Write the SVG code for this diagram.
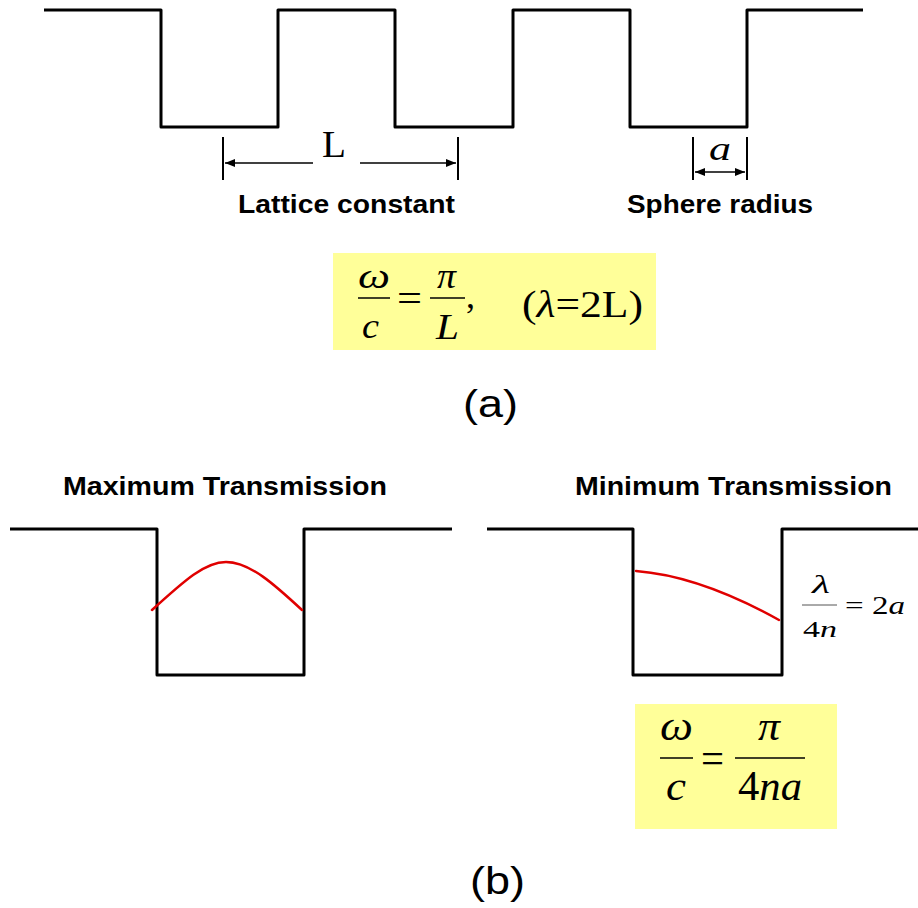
<svg xmlns="http://www.w3.org/2000/svg" width="918" height="908" viewBox="0 0 918 908">
<style>
.wave{fill:none;stroke:#000;stroke-width:3;stroke-linejoin:round}
.red{fill:none;stroke:#e00000;stroke-width:2.5;stroke-linecap:round}
.dim{fill:none;stroke:#000;stroke-width:1.5}
.tick{fill:none;stroke:#000;stroke-width:2}
.lbl{font-family:"Liberation Sans",Arial,sans-serif;font-weight:bold;font-size:25px;fill:#000}
.cap{font-family:"Liberation Sans",Arial,sans-serif;font-size:38px;fill:#000}
.m{font-family:"Liberation Serif","Times New Roman",serif;fill:#000}
.i{font-style:italic}
.box{fill:#ffff99}
.fl{stroke:#000;stroke-width:1.5}
</style>
<defs>
<marker id="ah" viewBox="0 0 10 10" refX="10" refY="5" markerWidth="10" markerHeight="10" markerUnits="userSpaceOnUse" orient="auto">
<path d="M0,1 L10,5 L0,9 Z" fill="#000"/>
</marker>
</defs>
<g id="panel-a">
<g id="lattice">
<path class="wave" d="M44,10 H161 V127 H278 V10 H395 V127 H513 V10 H630 V127 H747 V10 H863"/>
</g>
<g id="dim-L">
<line class="tick" x1="223" y1="137" x2="223" y2="180"/>
<line class="tick" x1="458" y1="137" x2="458" y2="180"/>
<text class="m" x="322" y="157" font-size="38" textLength="24" lengthAdjust="spacingAndGlyphs">L</text>
</g>
<g id="dim-a">
<line class="tick" x1="693" y1="137" x2="693" y2="180"/>
<line class="tick" x1="747" y1="137" x2="747" y2="180"/>
<text class="m i" x="709" y="160" font-size="34" textLength="22" lengthAdjust="spacingAndGlyphs">a</text>
</g>
<g id="label-lattice"><text class="lbl" x="238" y="213" textLength="217" lengthAdjust="spacingAndGlyphs">Lattice constant</text></g>
<g id="label-sphere"><text class="lbl" x="627" y="213" textLength="186" lengthAdjust="spacingAndGlyphs">Sphere radius</text></g>
<g id="formula-a">
<rect class="box" x="333" y="253" width="323" height="97"/>
<text class="m i" x="358" y="288" font-size="36" textLength="32" lengthAdjust="spacingAndGlyphs">ω</text>
<line class="fl" x1="358" y1="298" x2="390" y2="298"/>
<text class="m i" x="362" y="338" font-size="36" textLength="17" lengthAdjust="spacingAndGlyphs">c</text>
<text class="m" x="397" y="312" font-size="40" textLength="25" lengthAdjust="spacingAndGlyphs">=</text>
<text class="m i" x="437" y="288" font-size="36" textLength="19" lengthAdjust="spacingAndGlyphs">π</text>
<line class="fl" x1="430" y1="298" x2="465" y2="298"/>
<text class="m i" x="436" y="339" font-size="36" textLength="23" lengthAdjust="spacingAndGlyphs">L</text>
<text class="m" x="466" y="308" font-size="36">,</text>
<text class="m" x="522" y="317" font-size="38" textLength="121" lengthAdjust="spacingAndGlyphs">(<tspan font-style="italic">λ</tspan>=2L)</text>
</g>
<g id="caption-a"><text class="cap" x="463" y="417" textLength="55" lengthAdjust="spacingAndGlyphs">(a)</text></g>
</g>
<g id="panel-b">
<g id="label-max"><text class="lbl" x="63" y="495" textLength="324" lengthAdjust="spacingAndGlyphs">Maximum Transmission</text></g>
<g id="label-min"><text class="lbl" x="575" y="495" textLength="317" lengthAdjust="spacingAndGlyphs">Minimum Transmission</text></g>
<g id="well-max">
<path class="wave" d="M10,529 H157 V675 H304 V529 H452"/>
<path class="red" d="M152,610 C185,580 205,562 226,562 C250,562 275,585 302,610"/>
</g>
<g id="well-min">
<path class="wave" d="M487,529 H633 V675 H782 V529 H918"/>
<path class="red" d="M636,571 Q700,576 779,620"/>
</g>
<g id="formula-lambda">
<text class="m i" x="812" y="593" font-size="26" textLength="18" lengthAdjust="spacingAndGlyphs">λ</text>
<line x1="802" y1="605" x2="837" y2="605" stroke="#555" stroke-width="1"/>
<text class="m" x="803" y="637" font-size="23" textLength="34" lengthAdjust="spacingAndGlyphs">4<tspan font-style="italic">n</tspan></text>
<text class="m" x="845" y="614" font-size="26" textLength="60" lengthAdjust="spacingAndGlyphs">= 2<tspan font-style="italic">a</tspan></text>
</g>
<g id="formula-b">
<rect class="box" x="635" y="704" width="202" height="125"/>
<text class="m i" x="660" y="740" font-size="42" textLength="33" lengthAdjust="spacingAndGlyphs">ω</text>
<line class="fl" x1="660" y1="758" x2="693" y2="758" stroke-width="2"/>
<text class="m i" x="666" y="800" font-size="42" textLength="20" lengthAdjust="spacingAndGlyphs">c</text>
<text class="m" x="701" y="773" font-size="44" textLength="23" lengthAdjust="spacingAndGlyphs">=</text>
<text class="m i" x="758" y="740" font-size="42" textLength="22" lengthAdjust="spacingAndGlyphs">π</text>
<line class="fl" x1="735" y1="758" x2="805" y2="758" stroke-width="2"/>
<text class="m" x="738" y="800" font-size="42" textLength="64" lengthAdjust="spacingAndGlyphs">4<tspan font-style="italic">na</tspan></text>
</g>
<g id="caption-b"><text class="cap" x="470" y="894" textLength="55" lengthAdjust="spacingAndGlyphs">(b)</text></g>
</g>
<g id="connectors">
<line class="dim" x1="313" y1="163" x2="225" y2="163" marker-end="url(#ah)"/>
<line class="dim" x1="360" y1="163" x2="456" y2="163" marker-end="url(#ah)"/>
<line class="dim" x1="720" y1="172" x2="695" y2="172" marker-end="url(#ah)"/>
<line class="dim" x1="720" y1="172" x2="745" y2="172" marker-end="url(#ah)"/>
</g>
</svg>
